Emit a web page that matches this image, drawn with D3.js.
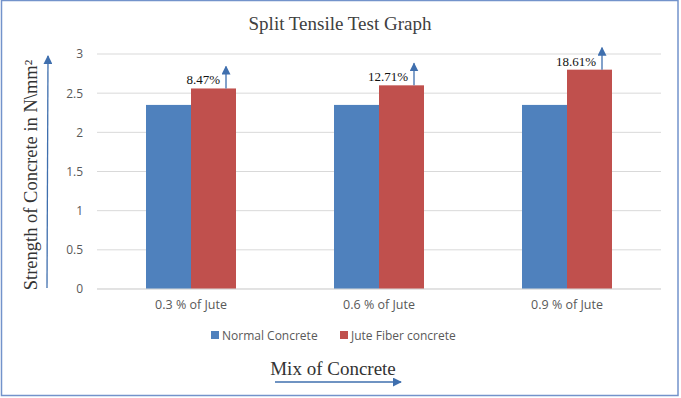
<!DOCTYPE html>
<html>
<head>
<meta charset="utf-8">
<script src="https://cdn.jsdelivr.net/npm/d3@7"></script>
<style>
  body { margin: 0; background: #fff; }
  svg { display: block; }
</style>
</head>
<body>
<svg id="chart" width="681" height="398"></svg>
<script>
// Chart data
const categories = ['0.3 % of Jute', '0.6 % of Jute', '0.9 % of Jute'];
const seriesNames = ['Normal Concrete', 'Jute Fiber concrete'];
const normalValues = [2.35, 2.35, 2.35];
const juteValues = [2.56, 2.60, 2.80];
const increaseLabels = ['8.47%', '12.71%', '18.61%'];
const yTicks = [0, 0.5, 1, 1.5, 2, 2.5, 3];

const colors = ['#4F81BD', '#C0504D'];
const arrowColor = '#3F6FAE';

const svg = d3.select('#chart');
const W = 681, H = 398;
const m = { left: 97, right: 20, top: 54, bottom: 109 };
const pw = W - m.left - m.right;
const ph = H - m.top - m.bottom;

// Outer frame
svg.append('rect')
  .attr('x', 1.5).attr('y', 0.5)
  .attr('width', 676.5).attr('height', 395)
  .attr('fill', '#fff')
  .attr('stroke', '#7393CB')
  .attr('stroke-width', 1.5);

// Arrow marker
svg.append('defs').append('marker')
  .attr('id', 'head')
  .attr('viewBox', '0 0 10 10')
  .attr('refX', 9).attr('refY', 5)
  .attr('markerWidth', 9).attr('markerHeight', 9)
  .attr('markerUnits', 'userSpaceOnUse')
  .attr('orient', 'auto')
  .append('path')
    .attr('d', 'M0,0 L10,5 L0,10 Z')
    .attr('fill', arrowColor);

const g = svg.append('g').attr('transform', `translate(${m.left},${m.top})`);

const x = d3.scaleBand().domain(categories).range([0, pw]);
const x1 = d3.scaleBand().domain(seriesNames)
  .range([x.bandwidth() / 2 - 45, x.bandwidth() / 2 + 45]);
const y = d3.scaleLinear().domain([0, 3]).range([ph, 0]);

// Gridlines
g.selectAll('.grid')
  .data(yTicks)
  .join('line')
    .attr('x1', 0).attr('x2', pw)
    .attr('y1', d => y(d)).attr('y2', d => y(d))
    .attr('stroke', '#D9D9D9')
    .attr('stroke-width', 1);

// Y axis labels
const yAxis = g.append('g')
  .call(d3.axisLeft(y).tickValues(yTicks).tickSize(0).tickPadding(14).tickFormat(d3.format('')));
yAxis.select('.domain').remove();
yAxis.selectAll('text')
  .attr('fill', '#595959')
  .style('font-family', 'Open Sans, sans-serif')
  .style('font-size', '12px');

// Bars
const rows = categories.map((c, i) => ({ c, vals: [normalValues[i], juteValues[i]] }));
const grp = g.selectAll('.cat')
  .data(rows)
  .join('g')
    .attr('transform', d => `translate(${x(d.c)},0)`);

grp.selectAll('rect')
  .data(d => d.vals.map((v, j) => ({ s: seriesNames[j], v, j })))
  .join('rect')
    .attr('x', d => x1(d.s))
    .attr('y', d => y(d.v))
    .attr('width', x1.bandwidth())
    .attr('height', d => ph - y(d.v))
    .attr('fill', d => colors[d.j]);

// Increase arrows and labels
grp.append('line')
  .attr('x1', d => x1(seriesNames[1]) + x1.bandwidth() - 10)
  .attr('x2', d => x1(seriesNames[1]) + x1.bandwidth() - 10)
  .attr('y1', d => y(d.vals[1]))
  .attr('y2', d => y(d.vals[1]) - 22)
  .attr('stroke', arrowColor)
  .attr('stroke-width', 1.3)
  .attr('marker-end', 'url(#head)');

grp.append('text')
  .attr('x', d => x1(seriesNames[1]) + x1.bandwidth() - 16)
  .attr('y', d => y(d.vals[1]) - 4)
  .attr('text-anchor', 'end')
  .attr('fill', '#111')
  .style('font-family', 'Liberation Serif, Times New Roman, serif')
  .style('font-size', '13px')
  .text((d, i) => increaseLabels[i]);

// X axis baseline
g.append('line')
  .attr('x1', 0).attr('x2', pw)
  .attr('y1', ph).attr('y2', ph)
  .attr('stroke', '#D9D9D9');

// Category labels
const xAxis = g.append('g')
  .attr('transform', `translate(0,${ph})`)
  .call(d3.axisBottom(x).tickSize(0).tickPadding(11));
xAxis.select('.domain').remove();
xAxis.selectAll('text')
  .attr('fill', '#595959')
  .style('font-family', 'Open Sans, sans-serif')
  .style('font-size', '12.5px');

// Title
svg.append('text')
  .attr('x', 340).attr('y', 30)
  .attr('text-anchor', 'middle')
  .attr('fill', '#404040')
  .style('font-family', 'Liberation Serif, Times New Roman, serif')
  .style('font-size', '19px')
  .text('Split Tensile Test Graph');

// Legend
const legend = svg.append('g').attr('transform', 'translate(211,335)');
const legX = [0, 129];
seriesNames.forEach((s, i) => {
  const lg = legend.append('g').attr('transform', `translate(${legX[i]},0)`);
  lg.append('rect')
    .attr('x', 0).attr('y', -4)
    .attr('width', 8).attr('height', 8)
    .attr('fill', colors[i]);
  lg.append('text')
    .attr('x', 11).attr('y', 4.5)
    .attr('fill', '#595959')
    .style('font-family', 'Open Sans, sans-serif')
    .style('font-size', '12px')
    .text(s);
});

// Y axis title with arrow
svg.append('text')
  .attr('transform', 'translate(37,175) rotate(-90)')
  .attr('text-anchor', 'middle')
  .attr('fill', '#333')
  .style('font-family', 'Liberation Serif, Times New Roman, serif')
  .style('font-size', '18.5px')
  .text('Strength of Concrete in N\\mm²');

svg.append('line')
  .attr('x1', 47).attr('x2', 48)
  .attr('y1', 288).attr('y2', 56)
  .attr('stroke', arrowColor)
  .attr('stroke-width', 1.3)
  .attr('marker-end', 'url(#head)');

// X axis title with arrow
svg.append('text')
  .attr('x', 333).attr('y', 375)
  .attr('text-anchor', 'middle')
  .attr('fill', '#333')
  .style('font-family', 'Liberation Serif, Times New Roman, serif')
  .style('font-size', '19px')
  .text('Mix of Concrete');

svg.append('line')
  .attr('x1', 275).attr('x2', 401)
  .attr('y1', 382).attr('y2', 382)
  .attr('stroke', arrowColor)
  .attr('stroke-width', 1.3)
  .attr('marker-end', 'url(#head)');
</script>
</body>
</html>
